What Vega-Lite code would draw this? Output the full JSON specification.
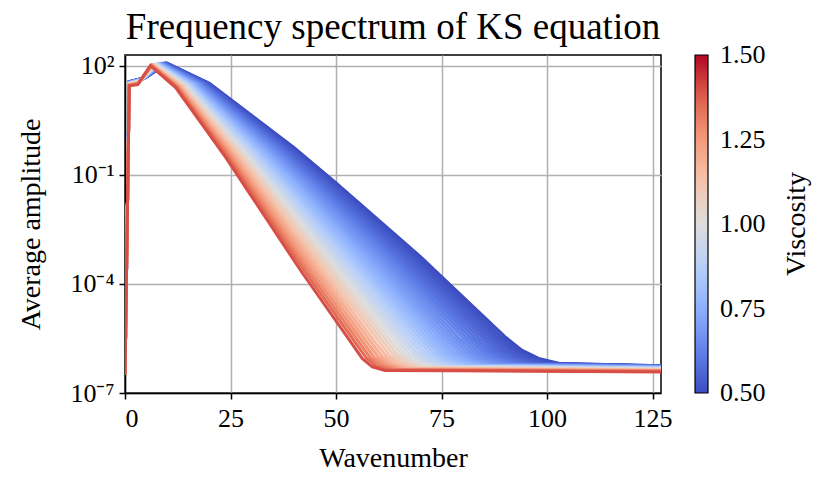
{
  "$schema": "https://vega.github.io/schema/vega-lite/v6.json",
  "autosize": {"type": "none"},
  "padding": {"left": 125, "top": 55, "right": 170, "bottom": 96},
  "width": 536,
  "height": 338,
  "background": "white",
  "title": {"text": "Frequency spectrum of KS equation", "font": "Liberation Serif", "fontSize": 37, "fontWeight": "normal", "color": "black", "offset": 6, "anchor": "middle"},
  "data": {
    "values": [
      {"v":0.5,"k":0,"a":3.16e-7},{"v":0.5,"k":1,"a":36.3},{"v":0.5,"k":5,"a":47.9},{"v":0.5,"k":10,"a":117.5},{"v":0.5,"k":20,"a":33.1},{"v":0.5,"k":40,"a":0.562},{"v":0.5,"k":50,"a":0.0603},{"v":0.5,"k":70,"a":5.62e-4},{"v":0.5,"k":90,"a":3.55e-6},{"v":0.5,"k":94,"a":1.51e-6},{"v":0.5,"k":98,"a":8.91e-7},{"v":0.5,"k":103,"a":6.46e-7},{"v":0.5,"k":127,"a":5.62e-7},
      {"v":0.51,"k":0,"a":3.16e-7},{"v":0.51,"k":1,"a":36.2},{"v":0.51,"k":4.95,"a":47.7},{"v":0.51,"k":9.9,"a":117.2},{"v":0.51,"k":19.8,"a":33.0},{"v":0.51,"k":39.6,"a":0.558},{"v":0.51,"k":49.5,"a":0.0597},{"v":0.51,"k":69.3,"a":5.56e-4},{"v":0.51,"k":89.1,"a":3.53e-6},{"v":0.51,"k":93.1,"a":1.50e-6},{"v":0.51,"k":97.0,"a":8.85e-7},{"v":0.51,"k":102.0,"a":6.43e-7},{"v":0.51,"k":127,"a":5.60e-7},
      {"v":0.521,"k":0,"a":3.16e-7},{"v":0.521,"k":1,"a":36.1},{"v":0.521,"k":4.9,"a":47.4},{"v":0.521,"k":9.8,"a":117.0},{"v":0.521,"k":19.6,"a":32.9},{"v":0.521,"k":39.2,"a":0.555},{"v":0.521,"k":49.0,"a":0.0592},{"v":0.521,"k":68.6,"a":5.50e-4},{"v":0.521,"k":88.2,"a":3.51e-6},{"v":0.521,"k":92.1,"a":1.50e-6},{"v":0.521,"k":96.0,"a":8.81e-7},{"v":0.521,"k":100.9,"a":6.40e-7},{"v":0.521,"k":127,"a":5.57e-7},
      {"v":0.532,"k":0,"a":3.16e-7},{"v":0.532,"k":1,"a":36.0},{"v":0.532,"k":4.85,"a":47.1},{"v":0.532,"k":9.7,"a":117.0},{"v":0.532,"k":19.4,"a":32.8},{"v":0.532,"k":38.8,"a":0.550},{"v":0.532,"k":48.5,"a":0.0585},{"v":0.532,"k":67.9,"a":5.43e-4},{"v":0.532,"k":87.3,"a":3.49e-6},{"v":0.532,"k":91.2,"a":1.49e-6},{"v":0.532,"k":95.0,"a":8.75e-7},{"v":0.532,"k":99.9,"a":6.35e-7},{"v":0.532,"k":127,"a":5.55e-7},
      {"v":0.543,"k":0,"a":3.16e-7},{"v":0.543,"k":1,"a":35.9},{"v":0.543,"k":4.8,"a":46.9},{"v":0.543,"k":9.6,"a":116.7},{"v":0.543,"k":19.2,"a":32.7},{"v":0.543,"k":38.4,"a":0.546},{"v":0.543,"k":48.0,"a":0.0579},{"v":0.543,"k":67.2,"a":5.36e-4},{"v":0.543,"k":86.4,"a":3.47e-6},{"v":0.543,"k":90.2,"a":1.48e-6},{"v":0.543,"k":94.1,"a":8.69e-7},{"v":0.543,"k":98.9,"a":6.32e-7},{"v":0.543,"k":127,"a":5.52e-7},
      {"v":0.554,"k":0,"a":3.16e-7},{"v":0.554,"k":1,"a":35.8},{"v":0.554,"k":4.75,"a":46.6},{"v":0.554,"k":9.5,"a":116.4},{"v":0.554,"k":19.0,"a":32.6},{"v":0.554,"k":38.0,"a":0.541},{"v":0.554,"k":47.5,"a":0.0573},{"v":0.554,"k":66.5,"a":5.30e-4},{"v":0.554,"k":85.5,"a":3.45e-6},{"v":0.554,"k":89.3,"a":1.47e-6},{"v":0.554,"k":93.1,"a":8.63e-7},{"v":0.554,"k":97.8,"a":6.30e-7},{"v":0.554,"k":127,"a":5.50e-7},
      {"v":0.566,"k":0,"a":3.16e-7},{"v":0.566,"k":1,"a":35.6},{"v":0.566,"k":4.7,"a":46.3},{"v":0.566,"k":9.4,"a":116.1},{"v":0.566,"k":18.8,"a":32.4},{"v":0.566,"k":37.6,"a":0.536},{"v":0.566,"k":47.0,"a":0.0566},{"v":0.566,"k":65.8,"a":5.22e-4},{"v":0.566,"k":84.6,"a":3.43e-6},{"v":0.566,"k":88.3,"a":1.46e-6},{"v":0.566,"k":92.1,"a":8.57e-7},{"v":0.566,"k":96.8,"a":6.25e-7},{"v":0.566,"k":127,"a":5.46e-7},
      {"v":0.579,"k":0,"a":3.16e-7},{"v":0.579,"k":1,"a":35.5},{"v":0.579,"k":4.65,"a":46.0},{"v":0.579,"k":9.3,"a":115.9},{"v":0.579,"k":18.6,"a":32.4},{"v":0.579,"k":37.2,"a":0.532},{"v":0.579,"k":46.5,"a":0.0561},{"v":0.579,"k":65.1,"a":5.16e-4},{"v":0.579,"k":83.7,"a":3.41e-6},{"v":0.579,"k":87.4,"a":1.45e-6},{"v":0.579,"k":91.1,"a":8.51e-7},{"v":0.579,"k":95.8,"a":6.21e-7},{"v":0.579,"k":127,"a":5.43e-7},
      {"v":0.591,"k":0,"a":3.16e-7},{"v":0.591,"k":1,"a":35.4},{"v":0.591,"k":4.6,"a":45.7},{"v":0.591,"k":9.2,"a":115.6},{"v":0.591,"k":18.4,"a":32.2},{"v":0.591,"k":36.8,"a":0.527},{"v":0.591,"k":46.0,"a":0.0555},{"v":0.591,"k":64.4,"a":5.09e-4},{"v":0.591,"k":82.8,"a":3.39e-6},{"v":0.591,"k":86.4,"a":1.44e-6},{"v":0.591,"k":90.1,"a":8.45e-7},{"v":0.591,"k":94.7,"a":6.18e-7},{"v":0.591,"k":127,"a":5.41e-7},
      {"v":0.604,"k":0,"a":3.16e-7},{"v":0.604,"k":1,"a":35.2},{"v":0.604,"k":4.55,"a":45.4},{"v":0.604,"k":9.1,"a":115.3},{"v":0.604,"k":18.2,"a":32.1},{"v":0.604,"k":36.4,"a":0.522},{"v":0.604,"k":45.5,"a":0.0547},{"v":0.604,"k":63.7,"a":5.01e-4},{"v":0.604,"k":81.9,"a":3.37e-6},{"v":0.604,"k":85.5,"a":1.42e-6},{"v":0.604,"k":89.1,"a":8.38e-7},{"v":0.604,"k":93.7,"a":6.14e-7},{"v":0.604,"k":127,"a":5.37e-7},
      {"v":0.618,"k":0,"a":3.16e-7},{"v":0.618,"k":1,"a":35.1},{"v":0.618,"k":4.5,"a":45.1},{"v":0.618,"k":9.0,"a":115.1},{"v":0.618,"k":18.0,"a":31.9},{"v":0.618,"k":36.0,"a":0.516},{"v":0.618,"k":45.0,"a":0.0541},{"v":0.618,"k":63.0,"a":4.94e-4},{"v":0.618,"k":81.0,"a":3.34e-6},{"v":0.618,"k":84.6,"a":1.41e-6},{"v":0.618,"k":88.2,"a":8.32e-7},{"v":0.618,"k":92.6,"a":6.10e-7},{"v":0.618,"k":127,"a":5.35e-7},
      {"v":0.632,"k":0,"a":3.16e-7},{"v":0.632,"k":1,"a":35.0},{"v":0.632,"k":4.45,"a":44.8},{"v":0.632,"k":8.9,"a":114.8},{"v":0.632,"k":17.8,"a":31.8},{"v":0.632,"k":35.6,"a":0.512},{"v":0.632,"k":44.5,"a":0.0533},{"v":0.632,"k":62.3,"a":4.86e-4},{"v":0.632,"k":80.1,"a":3.32e-6},{"v":0.632,"k":83.6,"a":1.40e-6},{"v":0.632,"k":87.2,"a":8.24e-7},{"v":0.632,"k":91.6,"a":6.05e-7},{"v":0.632,"k":127,"a":5.31e-7},
      {"v":0.647,"k":0,"a":3.16e-7},{"v":0.647,"k":1,"a":34.8},{"v":0.647,"k":4.4,"a":44.4},{"v":0.647,"k":8.8,"a":114.6},{"v":0.647,"k":17.6,"a":31.6},{"v":0.647,"k":35.2,"a":0.506},{"v":0.647,"k":44.0,"a":0.0526},{"v":0.647,"k":61.6,"a":4.79e-4},{"v":0.647,"k":79.1,"a":3.29e-6},{"v":0.647,"k":82.7,"a":1.39e-6},{"v":0.647,"k":86.2,"a":8.18e-7},{"v":0.647,"k":90.6,"a":6.01e-7},{"v":0.647,"k":127,"a":5.27e-7},
      {"v":0.662,"k":0,"a":3.16e-7},{"v":0.662,"k":1,"a":34.7},{"v":0.662,"k":4.35,"a":44.1},{"v":0.662,"k":8.7,"a":114.0},{"v":0.662,"k":17.4,"a":31.5},{"v":0.662,"k":34.8,"a":0.501},{"v":0.662,"k":43.5,"a":0.0519},{"v":0.662,"k":60.9,"a":4.71e-4},{"v":0.662,"k":78.2,"a":3.27e-6},{"v":0.662,"k":81.7,"a":1.38e-6},{"v":0.662,"k":85.2,"a":8.11e-7},{"v":0.662,"k":89.5,"a":5.97e-7},{"v":0.662,"k":127,"a":5.24e-7},
      {"v":0.677,"k":0,"a":3.16e-7},{"v":0.677,"k":1,"a":34.5},{"v":0.677,"k":4.3,"a":43.7},{"v":0.677,"k":8.6,"a":113.8},{"v":0.677,"k":17.2,"a":31.3},{"v":0.677,"k":34.4,"a":0.495},{"v":0.677,"k":43.0,"a":0.0512},{"v":0.677,"k":60.2,"a":4.62e-4},{"v":0.677,"k":77.3,"a":3.24e-6},{"v":0.677,"k":80.8,"a":1.36e-6},{"v":0.677,"k":84.2,"a":8.04e-7},{"v":0.677,"k":88.5,"a":5.93e-7},{"v":0.677,"k":127,"a":5.21e-7},
      {"v":0.693,"k":0,"a":3.16e-7},{"v":0.693,"k":1,"a":34.4},{"v":0.693,"k":4.25,"a":43.4},{"v":0.693,"k":8.5,"a":113.5},{"v":0.693,"k":17.0,"a":31.2},{"v":0.693,"k":34.0,"a":0.490},{"v":0.693,"k":42.5,"a":0.0505},{"v":0.693,"k":59.4,"a":4.55e-4},{"v":0.693,"k":76.4,"a":3.21e-6},{"v":0.693,"k":79.8,"a":1.35e-6},{"v":0.693,"k":83.2,"a":7.96e-7},{"v":0.693,"k":87.5,"a":5.87e-7},{"v":0.693,"k":127,"a":5.16e-7},
      {"v":0.71,"k":0,"a":3.16e-7},{"v":0.71,"k":1,"a":34.2},{"v":0.71,"k":4.2,"a":43.0},{"v":0.71,"k":8.4,"a":113.2},{"v":0.71,"k":16.8,"a":31.0},{"v":0.71,"k":33.6,"a":0.484},{"v":0.71,"k":42.0,"a":0.0497},{"v":0.71,"k":58.7,"a":4.47e-4},{"v":0.71,"k":75.5,"a":3.18e-6},{"v":0.71,"k":78.9,"a":1.34e-6},{"v":0.71,"k":82.2,"a":7.87e-7},{"v":0.71,"k":86.4,"a":5.83e-7},{"v":0.71,"k":127,"a":5.13e-7},
      {"v":0.727,"k":0,"a":3.16e-7},{"v":0.727,"k":1,"a":34.0},{"v":0.727,"k":4.15,"a":42.6},{"v":0.727,"k":8.3,"a":112.7},{"v":0.727,"k":16.6,"a":30.9},{"v":0.727,"k":33.2,"a":0.478},{"v":0.727,"k":41.5,"a":0.0489},{"v":0.727,"k":58.0,"a":4.38e-4},{"v":0.727,"k":74.6,"a":3.15e-6},{"v":0.727,"k":77.9,"a":1.32e-6},{"v":0.727,"k":81.3,"a":7.80e-7},{"v":0.727,"k":85.4,"a":5.78e-7},{"v":0.727,"k":127,"a":5.09e-7},
      {"v":0.745,"k":0,"a":3.16e-7},{"v":0.745,"k":1,"a":33.9},{"v":0.745,"k":4.1,"a":42.3},{"v":0.745,"k":8.2,"a":112.5},{"v":0.745,"k":16.4,"a":30.7},{"v":0.745,"k":32.8,"a":0.472},{"v":0.745,"k":41.0,"a":0.0481},{"v":0.745,"k":57.3,"a":4.30e-4},{"v":0.745,"k":73.7,"a":3.13e-6},{"v":0.745,"k":77.0,"a":1.31e-6},{"v":0.745,"k":80.3,"a":7.71e-7},{"v":0.745,"k":84.4,"a":5.73e-7},{"v":0.745,"k":127,"a":5.06e-7},
      {"v":0.764,"k":0,"a":3.16e-7},{"v":0.764,"k":1,"a":33.7},{"v":0.764,"k":4.05,"a":41.9},{"v":0.764,"k":8.1,"a":111.9},{"v":0.764,"k":16.2,"a":30.5},{"v":0.764,"k":32.4,"a":0.466},{"v":0.764,"k":40.5,"a":0.0473},{"v":0.764,"k":56.6,"a":4.21e-4},{"v":0.764,"k":72.8,"a":3.10e-6},{"v":0.764,"k":76.1,"a":1.30e-6},{"v":0.764,"k":79.3,"a":7.64e-7},{"v":0.764,"k":83.3,"a":5.68e-7},{"v":0.764,"k":127,"a":5.01e-7},
      {"v":0.783,"k":0,"a":3.16e-7},{"v":0.783,"k":1,"a":33.5},{"v":0.783,"k":4.0,"a":41.4},{"v":0.783,"k":8.0,"a":111.7},{"v":0.783,"k":16.0,"a":30.3},{"v":0.783,"k":32.0,"a":0.459},{"v":0.783,"k":40.0,"a":0.0465},{"v":0.783,"k":55.9,"a":4.12e-4},{"v":0.783,"k":71.9,"a":3.07e-6},{"v":0.783,"k":75.1,"a":1.28e-6},{"v":0.783,"k":78.3,"a":7.55e-7},{"v":0.783,"k":82.3,"a":5.62e-7},{"v":0.783,"k":127,"a":4.97e-7},
      {"v":0.803,"k":0,"a":3.16e-7},{"v":0.803,"k":1,"a":33.3},{"v":0.803,"k":3.94,"a":41.0},{"v":0.803,"k":7.9,"a":111.2},{"v":0.803,"k":15.8,"a":30.2},{"v":0.803,"k":31.6,"a":0.453},{"v":0.803,"k":39.4,"a":0.0456},{"v":0.803,"k":55.2,"a":4.03e-4},{"v":0.803,"k":71.0,"a":3.04e-6},{"v":0.803,"k":74.2,"a":1.26e-6},{"v":0.803,"k":77.3,"a":7.45e-7},{"v":0.803,"k":81.3,"a":5.57e-7},{"v":0.803,"k":127,"a":4.93e-7},
      {"v":0.824,"k":0,"a":3.16e-7},{"v":0.824,"k":1,"a":33.1},{"v":0.824,"k":3.89,"a":40.6},{"v":0.824,"k":7.8,"a":110.9},{"v":0.824,"k":15.6,"a":30.0},{"v":0.824,"k":31.2,"a":0.446},{"v":0.824,"k":38.9,"a":0.0447},{"v":0.824,"k":54.5,"a":3.94e-4},{"v":0.824,"k":70.1,"a":3.01e-6},{"v":0.824,"k":73.2,"a":1.25e-6},{"v":0.824,"k":76.3,"a":7.36e-7},{"v":0.824,"k":80.2,"a":5.52e-7},{"v":0.824,"k":127,"a":4.89e-7},
      {"v":0.846,"k":0,"a":3.16e-7},{"v":0.846,"k":1,"a":32.9},{"v":0.846,"k":3.84,"a":40.1},{"v":0.846,"k":7.7,"a":110.4},{"v":0.846,"k":15.4,"a":29.8},{"v":0.846,"k":30.8,"a":0.439},{"v":0.846,"k":38.4,"a":0.0439},{"v":0.846,"k":53.8,"a":3.85e-4},{"v":0.846,"k":69.2,"a":2.97e-6},{"v":0.846,"k":72.3,"a":1.24e-6},{"v":0.846,"k":75.3,"a":7.28e-7},{"v":0.846,"k":79.2,"a":5.46e-7},{"v":0.846,"k":127,"a":4.84e-7},
      {"v":0.868,"k":0,"a":3.16e-7},{"v":0.868,"k":1,"a":32.7},{"v":0.868,"k":3.79,"a":39.7},{"v":0.868,"k":7.6,"a":109.9},{"v":0.868,"k":15.2,"a":29.6},{"v":0.868,"k":30.4,"a":0.432},{"v":0.868,"k":37.9,"a":0.0430},{"v":0.868,"k":53.1,"a":3.75e-4},{"v":0.868,"k":68.3,"a":2.94e-6},{"v":0.868,"k":71.3,"a":1.22e-6},{"v":0.868,"k":74.4,"a":7.18e-7},{"v":0.868,"k":78.2,"a":5.40e-7},{"v":0.868,"k":127,"a":4.79e-7},
      {"v":0.892,"k":0,"a":3.16e-7},{"v":0.892,"k":1,"a":32.5},{"v":0.892,"k":3.74,"a":39.2},{"v":0.892,"k":7.5,"a":109.6},{"v":0.892,"k":15.0,"a":29.4},{"v":0.892,"k":29.9,"a":0.425},{"v":0.892,"k":37.4,"a":0.0420},{"v":0.892,"k":52.4,"a":3.66e-4},{"v":0.892,"k":67.4,"a":2.90e-6},{"v":0.892,"k":70.4,"a":1.20e-6},{"v":0.892,"k":73.4,"a":7.08e-7},{"v":0.892,"k":77.1,"a":5.33e-7},{"v":0.892,"k":127,"a":4.74e-7},
      {"v":0.916,"k":0,"a":3.16e-7},{"v":0.916,"k":1,"a":32.3},{"v":0.916,"k":3.69,"a":38.7},{"v":0.916,"k":7.4,"a":109.1},{"v":0.916,"k":14.8,"a":29.1},{"v":0.916,"k":29.5,"a":0.417},{"v":0.916,"k":36.9,"a":0.0410},{"v":0.916,"k":51.7,"a":3.56e-4},{"v":0.916,"k":66.5,"a":2.86e-6},{"v":0.916,"k":69.4,"a":1.19e-6},{"v":0.916,"k":72.4,"a":6.98e-7},{"v":0.916,"k":76.1,"a":5.27e-7},{"v":0.916,"k":127,"a":4.69e-7},
      {"v":0.942,"k":0,"a":3.16e-7},{"v":0.942,"k":1,"a":32.1},{"v":0.942,"k":3.64,"a":38.2},{"v":0.942,"k":7.3,"a":108.6},{"v":0.942,"k":14.6,"a":28.9},{"v":0.942,"k":29.1,"a":0.410},{"v":0.942,"k":36.4,"a":0.0401},{"v":0.942,"k":51.0,"a":3.46e-4},{"v":0.942,"k":65.6,"a":2.83e-6},{"v":0.942,"k":68.5,"a":1.17e-6},{"v":0.942,"k":71.4,"a":6.87e-7},{"v":0.942,"k":75.1,"a":5.21e-7},{"v":0.942,"k":127,"a":4.65e-7},
      {"v":0.968,"k":0,"a":3.16e-7},{"v":0.968,"k":1,"a":31.8},{"v":0.968,"k":3.59,"a":37.7},{"v":0.968,"k":7.2,"a":108.1},{"v":0.968,"k":14.4,"a":28.7},{"v":0.968,"k":28.7,"a":0.402},{"v":0.968,"k":35.9,"a":0.0392},{"v":0.968,"k":50.3,"a":3.36e-4},{"v":0.968,"k":64.7,"a":2.79e-6},{"v":0.968,"k":67.5,"a":1.15e-6},{"v":0.968,"k":70.4,"a":6.76e-7},{"v":0.968,"k":74.0,"a":5.14e-7},{"v":0.968,"k":127,"a":4.59e-7},
      {"v":0.996,"k":0,"a":3.16e-7},{"v":0.996,"k":1,"a":31.6},{"v":0.996,"k":3.54,"a":37.2},{"v":0.996,"k":7.1,"a":107.4},{"v":0.996,"k":14.2,"a":28.4},{"v":0.996,"k":28.3,"a":0.394},{"v":0.996,"k":35.4,"a":0.0382},{"v":0.996,"k":49.6,"a":3.26e-4},{"v":0.996,"k":63.8,"a":2.75e-6},{"v":0.996,"k":66.6,"a":1.13e-6},{"v":0.996,"k":69.4,"a":6.65e-7},{"v":0.996,"k":73.0,"a":5.07e-7},{"v":0.996,"k":127,"a":4.53e-7},
      {"v":1.025,"k":0,"a":3.16e-7},{"v":1.025,"k":1,"a":31.3},{"v":1.025,"k":3.49,"a":36.6},{"v":1.025,"k":7.0,"a":106.9},{"v":1.025,"k":14.0,"a":28.2},{"v":1.025,"k":27.9,"a":0.386},{"v":1.025,"k":34.9,"a":0.0372},{"v":1.025,"k":48.9,"a":3.15e-4},{"v":1.025,"k":62.9,"a":2.71e-6},{"v":1.025,"k":65.7,"a":1.11e-6},{"v":1.025,"k":68.5,"a":6.55e-7},{"v":1.025,"k":71.9,"a":5.00e-7},{"v":1.025,"k":127,"a":4.48e-7},
      {"v":1.055,"k":0,"a":3.16e-7},{"v":1.055,"k":1,"a":31.0},{"v":1.055,"k":3.44,"a":36.1},{"v":1.055,"k":6.9,"a":106.4},{"v":1.055,"k":13.8,"a":27.9},{"v":1.055,"k":27.5,"a":0.378},{"v":1.055,"k":34.4,"a":0.0361},{"v":1.055,"k":48.2,"a":3.05e-4},{"v":1.055,"k":62.0,"a":2.67e-6},{"v":1.055,"k":64.7,"a":1.09e-6},{"v":1.055,"k":67.5,"a":6.43e-7},{"v":1.055,"k":70.9,"a":4.93e-7},{"v":1.055,"k":127,"a":4.42e-7},
      {"v":1.086,"k":0,"a":3.16e-7},{"v":1.086,"k":1,"a":30.8},{"v":1.086,"k":3.39,"a":35.5},{"v":1.086,"k":6.8,"a":105.7},{"v":1.086,"k":13.6,"a":27.7},{"v":1.086,"k":27.1,"a":0.369},{"v":1.086,"k":33.9,"a":0.0351},{"v":1.086,"k":47.5,"a":2.95e-4},{"v":1.086,"k":61.1,"a":2.63e-6},{"v":1.086,"k":63.8,"a":1.07e-6},{"v":1.086,"k":66.5,"a":6.31e-7},{"v":1.086,"k":69.9,"a":4.85e-7},{"v":1.086,"k":127,"a":4.36e-7},
      {"v":1.119,"k":0,"a":3.16e-7},{"v":1.119,"k":1,"a":30.5},{"v":1.119,"k":3.34,"a":34.9},{"v":1.119,"k":6.7,"a":105.2},{"v":1.119,"k":13.4,"a":27.4},{"v":1.119,"k":26.7,"a":0.361},{"v":1.119,"k":33.4,"a":0.0340},{"v":1.119,"k":46.8,"a":2.84e-4},{"v":1.119,"k":60.2,"a":2.58e-6},{"v":1.119,"k":62.8,"a":1.05e-6},{"v":1.119,"k":65.5,"a":6.19e-7},{"v":1.119,"k":68.8,"a":4.78e-7},{"v":1.119,"k":127,"a":4.30e-7},
      {"v":1.154,"k":0,"a":3.16e-7},{"v":1.154,"k":1,"a":30.2},{"v":1.154,"k":3.29,"a":34.3},{"v":1.154,"k":6.6,"a":104.5},{"v":1.154,"k":13.2,"a":27.1},{"v":1.154,"k":26.3,"a":0.352},{"v":1.154,"k":32.9,"a":0.0330},{"v":1.154,"k":46.1,"a":2.74e-4},{"v":1.154,"k":59.2,"a":2.54e-6},{"v":1.154,"k":61.9,"a":1.03e-6},{"v":1.154,"k":64.5,"a":6.07e-7},{"v":1.154,"k":67.8,"a":4.70e-7},{"v":1.154,"k":127,"a":4.24e-7},
      {"v":1.19,"k":0,"a":3.16e-7},{"v":1.19,"k":1,"a":29.9},{"v":1.19,"k":3.24,"a":33.7},{"v":1.19,"k":6.5,"a":103.8},{"v":1.19,"k":13.0,"a":26.8},{"v":1.19,"k":25.9,"a":0.344},{"v":1.19,"k":32.4,"a":0.0319},{"v":1.19,"k":45.4,"a":2.64e-4},{"v":1.19,"k":58.3,"a":2.49e-6},{"v":1.19,"k":60.9,"a":1.01e-6},{"v":1.19,"k":63.5,"a":5.94e-7},{"v":1.19,"k":66.8,"a":4.61e-7},{"v":1.19,"k":127,"a":4.17e-7},
      {"v":1.228,"k":0,"a":3.16e-7},{"v":1.228,"k":1,"a":29.6},{"v":1.228,"k":3.19,"a":33.0},{"v":1.228,"k":6.4,"a":103.0},{"v":1.228,"k":12.8,"a":26.5},{"v":1.228,"k":25.5,"a":0.334},{"v":1.228,"k":31.9,"a":0.0308},{"v":1.228,"k":44.7,"a":2.53e-4},{"v":1.228,"k":57.4,"a":2.44e-6},{"v":1.228,"k":60.0,"a":9.86e-7},{"v":1.228,"k":62.5,"a":5.81e-7},{"v":1.228,"k":65.7,"a":4.53e-7},{"v":1.228,"k":127,"a":4.10e-7},
      {"v":1.267,"k":0,"a":3.16e-7},{"v":1.267,"k":1,"a":29.3},{"v":1.267,"k":3.14,"a":32.4},{"v":1.267,"k":6.3,"a":102.3},{"v":1.267,"k":12.6,"a":26.2},{"v":1.267,"k":25.1,"a":0.324},{"v":1.267,"k":31.4,"a":0.0297},{"v":1.267,"k":44.0,"a":2.42e-4},{"v":1.267,"k":56.5,"a":2.40e-6},{"v":1.267,"k":59.0,"a":9.64e-7},{"v":1.267,"k":61.6,"a":5.68e-7},{"v":1.267,"k":64.7,"a":4.45e-7},{"v":1.267,"k":127,"a":4.03e-7},
      {"v":1.309,"k":0,"a":3.16e-7},{"v":1.309,"k":1,"a":28.9},{"v":1.309,"k":3.09,"a":31.7},{"v":1.309,"k":6.2,"a":101.6},{"v":1.309,"k":12.4,"a":25.8},{"v":1.309,"k":24.7,"a":0.315},{"v":1.309,"k":30.9,"a":0.0286},{"v":1.309,"k":43.3,"a":2.31e-4},{"v":1.309,"k":55.6,"a":2.34e-6},{"v":1.309,"k":58.1,"a":9.40e-7},{"v":1.309,"k":60.6,"a":5.53e-7},{"v":1.309,"k":63.7,"a":4.36e-7},{"v":1.309,"k":127,"a":3.95e-7},
      {"v":1.352,"k":0,"a":3.16e-7},{"v":1.352,"k":1,"a":28.6},{"v":1.352,"k":3.04,"a":31.0},{"v":1.352,"k":6.1,"a":100.9},{"v":1.352,"k":12.2,"a":25.5},{"v":1.352,"k":24.3,"a":0.305},{"v":1.352,"k":30.4,"a":0.0275},{"v":1.352,"k":42.6,"a":2.20e-4},{"v":1.352,"k":54.7,"a":2.30e-6},{"v":1.352,"k":57.2,"a":9.16e-7},{"v":1.352,"k":59.6,"a":5.40e-7},{"v":1.352,"k":62.6,"a":4.27e-7},{"v":1.352,"k":127,"a":3.88e-7},
      {"v":1.4,"k":0,"a":3.16e-7},{"v":1.4,"k":1,"a":28.2},{"v":1.4,"k":2.99,"a":30.2},{"v":1.4,"k":6.0,"a":100.0},{"v":1.4,"k":12.0,"a":25.1},{"v":1.4,"k":23.9,"a":0.295},{"v":1.4,"k":29.9,"a":0.0263},{"v":1.4,"k":41.9,"a":2.09e-4},{"v":1.4,"k":53.8,"a":2.24e-6},{"v":1.4,"k":56.2,"a":8.91e-7},{"v":1.4,"k":58.6,"a":5.25e-7},{"v":1.4,"k":61.6,"a":4.17e-7},{"v":1.4,"k":127,"a":3.80e-7}
    ]
  },
  "mark": {"type": "line", "strokeWidth": 3, "clip": true},
  "encoding": {
    "x": {
      "field": "k",
      "type": "quantitative",
      "title": "Wavenumber",
      "scale": {"domain": [0, 127], "nice": false, "zero": false},
      "axis": {"values": [0, 25, 50, 75, 100, 125], "labelPadding": 6, "titlePadding": 13}
    },
    "y": {
      "field": "a",
      "type": "quantitative",
      "title": "Average amplitude",
      "scale": {"type": "log", "domain": [1e-7, 197], "nice": false},
      "axis": {
        "values": [1e-7, 1e-4, 0.1, 100],
        "labelExpr": "datum.value > 10 ? '10²' : datum.value > 0.01 ? '10⁻¹' : datum.value > 1e-5 ? '10⁻⁴' : '10⁻⁷'",
        "labelPadding": 5,
        "titlePadding": 24
      }
    },
    "color": {
      "field": "v",
      "type": "quantitative",
      "scale": {
        "domain": [0.5, 0.625, 0.75, 0.875, 1.0, 1.125, 1.25, 1.375, 1.5],
        "range": ["#3b4cc0", "#6282ea", "#8db0fe", "#b8d0f9", "#dddddd", "#f5c4ac", "#f49a7b", "#de604d", "#b40426"],
        "interpolate": "rgb"
      },
      "legend": {
        "title": "Viscosity",
        "orient": "right",
        "offset": 34,
        "padding": 0,
        "gradientLength": 338,
        "gradientThickness": 13,
        "gradientStrokeColor": "black",
        "gradientStrokeWidth": 1.2,
        "values": [0.5, 0.75, 1.0, 1.25, 1.5],
        "format": ".2f",
        "labelFont": "Liberation Serif",
        "labelFontSize": 26,
        "labelColor": "black",
        "labelOffset": 12,
        "titleOrient": "right",
        "titleAnchor": "middle",
        "titleFont": "Liberation Serif",
        "titleFontSize": 28,
        "titleFontWeight": "normal",
        "titleColor": "black",
        "titlePadding": 17,
        "encode": {
          "labels": {"update": {"baseline": {"value": "middle"}, "font": {"value": "Liberation Serif"}}},
          "title": {"update": {"angle": {"value": -90}, "baseline": {"value": "top"}}}
        }
      }
    },
    "detail": {"field": "v", "type": "quantitative"}
  },
  "config": {
    "view": {"stroke": "black", "strokeWidth": 1.5},
    "style": {
      "guide-label": {"font": "Liberation Serif"},
      "guide-title": {"font": "Liberation Serif"}
    },
    "legend": {"labelFont": "Liberation Serif", "titleFont": "Liberation Serif"},
    "axis": {
      "labelFont": "Liberation Serif",
      "titleFont": "Liberation Serif",
      "labelFontSize": 26,
      "titleFontSize": 28,
      "titleFontWeight": "normal",
      "labelColor": "black",
      "titleColor": "black",
      "domainColor": "black",
      "domainWidth": 1.5,
      "tickColor": "black",
      "tickWidth": 1.5,
      "tickSize": 6,
      "gridColor": "#b0b0b0",
      "gridWidth": 1.5,
      "gridOpacity": 1
    }
  }
}
